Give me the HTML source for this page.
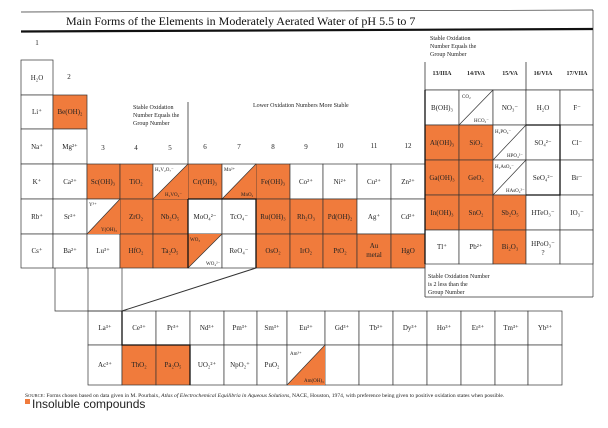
<!DOCTYPE html>
<html><head><meta charset="utf-8"><style>
html,body{margin:0;padding:0;background:#fff;width:608px;height:428px;overflow:hidden}
svg{display:block}
text{font-family:"Liberation Serif","DejaVu Serif",serif;font-size:7px;fill:#222}
.t{text-anchor:middle}
.s{font-size:6px}
.d{font-size:5px}
</style></head><body>
<svg width="608" height="428" viewBox="0 0 608 428" xmlns="http://www.w3.org/2000/svg">
<g stroke="#333" stroke-width="0.7" fill="none">
<line x1="21" y1="12" x2="593" y2="10"/>
<line x1="21" y1="31.5" x2="593" y2="29" stroke-width="2.2" stroke="#111"/>
<line x1="593" y1="10" x2="593" y2="297"/>
</g>
<text x="66" y="25" style="font-size:12px;fill:#111">Main Forms of the Elements in Moderately Aerated Water of pH 5.5 to 7</text>

<text class="t" x="37" y="45">1</text>
<text class="t" x="69" y="79">2</text>
<text class="t" x="103" y="150">3</text><text class="t" x="136" y="150">4</text><text class="t" x="170" y="150">5</text>
<text class="t" x="205" y="149">6</text><text class="t" x="239" y="149">7</text><text class="t" x="273" y="149">8</text>
<text class="t" x="306" y="149">9</text><text class="t" x="340" y="148">10</text><text class="t" x="374" y="148">11</text><text class="t" x="408" y="148">12</text>
<text x="133" y="109" class="s">Stable Oxidation</text>
<text x="133" y="117" class="s">Number Equals the</text>
<text x="133" y="125" class="s">Group Number</text>
<line x1="188" y1="102" x2="188" y2="164" stroke="#333" stroke-width="0.8"/>
<text x="253" y="107" class="s">Lower Oxidation Numbers More Stable</text>
<text x="430" y="40" class="s">Stable Oxidation</text>
<text x="430" y="48" class="s">Number Equals the</text>
<text x="430" y="56" class="s">Group Number</text>
<text class="t s" x="442" y="75" font-weight="bold">13/IIIA</text>
<text class="t s" x="476" y="75" font-weight="bold">14/IVA</text>
<text class="t s" x="510" y="75" font-weight="bold">15/VA</text>
<text class="t s" x="543" y="75" font-weight="bold">16/VIA</text>
<text class="t s" x="577" y="75" font-weight="bold">17/VIIA</text>
<g stroke="#333" stroke-width="0.8" fill="none">
<line x1="425" y1="62" x2="425" y2="297"/>
<line x1="526" y1="62" x2="526" y2="90"/>
<line x1="425" y1="90" x2="593" y2="90"/>
<line x1="425" y1="297" x2="593" y2="297"/>
</g>
<text x="428" y="278" class="s">Stable Oxidation Number</text>
<text x="428" y="286" class="s">is 2 less than the</text>
<text x="428" y="294" class="s">Group Number</text>

<g stroke="#333" stroke-width="0.7">
<rect x="21" y="60" width="32" height="35" fill="#fff"/>
<rect x="21" y="95" width="32" height="34" fill="#fff"/>
<rect x="53" y="95" width="34" height="34" fill="#f07b3c"/>
<rect x="21" y="129" width="32" height="35" fill="#fff"/>
<rect x="53" y="129" width="34" height="35" fill="#fff"/>
<rect x="21" y="164" width="32" height="35" fill="#fff"/>
<rect x="53" y="164" width="34" height="35" fill="#fff"/>
<rect x="21" y="199" width="32" height="35" fill="#fff"/>
<rect x="53" y="199" width="34" height="35" fill="#fff"/>
<rect x="21" y="234" width="32" height="34" fill="#fff"/>
<rect x="53" y="234" width="34" height="34" fill="#fff"/>
<rect x="87" y="164" width="33" height="35" fill="#f07b3c"/>
<rect x="120" y="164" width="33" height="35" fill="#f07b3c"/>
<rect x="153" y="164" width="35" height="35" fill="#fff"/>
<rect x="188" y="164" width="34" height="35" fill="#f07b3c"/>
<rect x="222" y="164" width="34" height="35" fill="#fff"/>
<rect x="256" y="164" width="34" height="35" fill="#f07b3c"/>
<rect x="290" y="164" width="33" height="35" fill="#fff"/>
<rect x="323" y="164" width="34" height="35" fill="#fff"/>
<rect x="357" y="164" width="34" height="35" fill="#fff"/>
<rect x="391" y="164" width="34" height="35" fill="#fff"/>
<rect x="87" y="199" width="33" height="35" fill="#fff"/>
<rect x="120" y="199" width="33" height="35" fill="#f07b3c"/>
<rect x="153" y="199" width="35" height="35" fill="#f07b3c"/>
<rect x="188" y="199" width="34" height="35" fill="#fff"/>
<rect x="222" y="199" width="34" height="35" fill="#fff"/>
<rect x="256" y="199" width="34" height="35" fill="#f07b3c"/>
<rect x="290" y="199" width="33" height="35" fill="#f07b3c"/>
<rect x="323" y="199" width="34" height="35" fill="#f07b3c"/>
<rect x="357" y="199" width="34" height="35" fill="#fff"/>
<rect x="391" y="199" width="34" height="35" fill="#fff"/>
<rect x="87" y="234" width="33" height="34" fill="#fff"/>
<rect x="120" y="234" width="33" height="34" fill="#f07b3c"/>
<rect x="153" y="234" width="35" height="34" fill="#f07b3c"/>
<rect x="188" y="234" width="34" height="34" fill="#fff"/>
<rect x="222" y="234" width="34" height="34" fill="#fff"/>
<rect x="256" y="234" width="34" height="34" fill="#f07b3c"/>
<rect x="290" y="234" width="33" height="34" fill="#f07b3c"/>
<rect x="323" y="234" width="34" height="34" fill="#f07b3c"/>
<rect x="357" y="234" width="34" height="34" fill="#f07b3c"/>
<rect x="391" y="234" width="34" height="34" fill="#f07b3c"/>
<rect x="425" y="90" width="34" height="35" fill="#fff"/>
<rect x="459" y="90" width="34" height="35" fill="#fff"/>
<rect x="493" y="90" width="33" height="35" fill="#fff"/>
<rect x="526" y="90" width="34" height="35" fill="#fff"/>
<rect x="560" y="90" width="33" height="35" fill="#fff"/>
<rect x="425" y="125" width="34" height="35" fill="#f07b3c"/>
<rect x="459" y="125" width="34" height="35" fill="#f07b3c"/>
<rect x="493" y="125" width="33" height="35" fill="#fff"/>
<rect x="526" y="125" width="34" height="35" fill="#fff"/>
<rect x="560" y="125" width="33" height="35" fill="#fff"/>
<rect x="425" y="160" width="34" height="35" fill="#f07b3c"/>
<rect x="459" y="160" width="34" height="35" fill="#f07b3c"/>
<rect x="493" y="160" width="33" height="35" fill="#fff"/>
<rect x="526" y="160" width="34" height="35" fill="#fff"/>
<rect x="560" y="160" width="33" height="35" fill="#fff"/>
<rect x="425" y="195" width="34" height="35" fill="#f07b3c"/>
<rect x="459" y="195" width="34" height="35" fill="#f07b3c"/>
<rect x="493" y="195" width="33" height="35" fill="#f07b3c"/>
<rect x="526" y="195" width="34" height="35" fill="#fff"/>
<rect x="560" y="195" width="33" height="35" fill="#fff"/>
<rect x="425" y="230" width="34" height="34" fill="#fff"/>
<rect x="459" y="230" width="34" height="34" fill="#fff"/>
<rect x="493" y="230" width="33" height="34" fill="#f07b3c"/>
<rect x="526" y="230" width="34" height="34" fill="#fff"/>
<rect x="560" y="230" width="33" height="34" fill="#fff"/>
<rect x="88" y="311" width="34" height="34" fill="#fff"/>
<rect x="88" y="345" width="34" height="40" fill="#fff"/>
</g>
<g stroke="#333" stroke-width="0.7" fill="#fff">
<rect x="122" y="311" width="34" height="34"/><rect x="156" y="311" width="34" height="34"/>
<rect x="190" y="311" width="34" height="34"/><rect x="224" y="311" width="33" height="34"/>
<rect x="257" y="311" width="30" height="34"/><rect x="287" y="311" width="38" height="34"/>
<rect x="325" y="311" width="34" height="34"/><rect x="359" y="311" width="34" height="34"/>
<rect x="393" y="311" width="34" height="34"/><rect x="427" y="311" width="34" height="34"/>
<rect x="461" y="311" width="34" height="34"/><rect x="495" y="311" width="33" height="34"/>
<rect x="528" y="311" width="34" height="34"/>
<rect x="122" y="345" width="34" height="40" fill="#f07b3c"/><rect x="156" y="345" width="34" height="40" fill="#f07b3c"/>
<rect x="190" y="345" width="34" height="40"/><rect x="224" y="345" width="33" height="40"/>
<rect x="257" y="345" width="30" height="40"/><rect x="287" y="345" width="38" height="40"/>
<rect x="325" y="345" width="34" height="40"/><rect x="359" y="345" width="34" height="40"/>
<rect x="393" y="345" width="34" height="40"/><rect x="427" y="345" width="34" height="40"/>
<rect x="461" y="345" width="34" height="40"/><rect x="495" y="345" width="33" height="40"/>
<rect x="528" y="345" width="34" height="40"/>
</g>
<g fill="#f07b3c" stroke="none">
<polygon points="153,199 188,164 188,199"/>
<polygon points="222,199 256,164 256,199"/>
<polygon points="87,234 120,199 120,234"/>
<polygon points="188,234 222,234 188,268"/>
<polygon points="287,385 325,345 325,385"/>
</g>
<g stroke="#333" stroke-width="0.7">
<line x1="153" y1="199" x2="188" y2="164"/>
<line x1="222" y1="199" x2="256" y2="164"/>
<line x1="87" y1="234" x2="120" y2="199"/>
<line x1="188" y1="268" x2="222" y2="234"/>
<line x1="287" y1="385" x2="325" y2="345"/>
<line x1="459" y1="125" x2="493" y2="90"/>
<line x1="493" y1="160" x2="526" y2="125"/>
<line x1="493" y1="195" x2="526" y2="160"/>
<polyline points="55,268 55,311 122,311" fill="none"/>
<line x1="88" y1="268" x2="88" y2="311"/>
<line x1="122" y1="268" x2="122" y2="311"/>
<line x1="122" y1="311" x2="256" y2="268" stroke-width="1"/>
</g>
<g stroke="#111" stroke-width="1.3" fill="none">
<polyline points="188,199 256,199 256,268"/>
<line x1="188" y1="199" x2="188" y2="268"/>
<line x1="425" y1="90" x2="425" y2="264"/>
<polyline points="526,125 560,125 560,195 526,195"/>
<polyline points="122,311 122,345 190,345 190,385"/>
</g>

<text class="t" x="37" y="80">H₂O</text>
<text class="t" x="37" y="114">Li⁺</text>
<text class="t" x="70" y="114" font-size="6.5">Be(OH)₂</text>
<text class="t" x="37" y="149">Na⁺</text>
<text class="t" x="70" y="149">Mg²⁺</text>
<text class="t" x="37" y="184">K⁺</text>
<text class="t" x="70" y="184">Ca²⁺</text>
<text class="t" x="37" y="219">Rb⁺</text>
<text class="t" x="70" y="219">Sr²⁺</text>
<text class="t" x="37" y="253">Cs⁺</text>
<text class="t" x="70" y="253">Ba²⁺</text>
<text class="t" x="103" y="184">Sc(OH)₃</text>
<text class="t" x="136" y="184">TiO₂</text>
<text x="155" y="171" class="d">H₃V₂O₇⁻</text>
<text x="165" y="196" class="d">H₂VO₄⁻</text>
<text class="t" x="205" y="184">Cr(OH)₃</text>
<text x="224" y="171" class="d">Mn²⁺</text>
<text x="241" y="196" class="d">MnO₂</text>
<text class="t" x="273" y="184">Fe(OH)₃</text>
<text class="t" x="306" y="184">Co²⁺</text>
<text class="t" x="340" y="184">Ni²⁺</text>
<text class="t" x="374" y="184">Cu²⁺</text>
<text class="t" x="408" y="184">Zn²⁺</text>
<text x="89" y="206" class="d">Y³⁺</text>
<text x="101" y="231" class="d">Y(OH)₃</text>
<text class="t" x="136" y="219">ZrO₂</text>
<text class="t" x="170" y="219">Nb₂O₅</text>
<text class="t" x="205" y="219">MoO₄²⁻</text>
<text class="t" x="239" y="219">TcO₄⁻</text>
<text class="t" x="273" y="219">Ru(OH)₃</text>
<text class="t" x="306" y="219">Rh₂O₃</text>
<text class="t" x="340" y="219">Pd(OH)₂</text>
<text class="t" x="374" y="219">Ag⁺</text>
<text class="t" x="408" y="219">Cd²⁺</text>
<text class="t" x="103" y="253">Lu³⁺</text>
<text class="t" x="136" y="253">HfO₂</text>
<text class="t" x="170" y="253">Ta₂O₅</text>
<text x="190" y="241" class="d">WO₃</text>
<text x="206" y="265" class="d">WO₄²⁻</text>
<text class="t" x="239" y="253">ReO₄⁻</text>
<text class="t" x="273" y="253">OsO₂</text>
<text class="t" x="306" y="253">IrO₂</text>
<text class="t" x="340" y="253">PtO₂</text>
<text class="t" x="374" y="248">Au</text>
<text class="t" x="374" y="257">metal</text>
<text class="t" x="408" y="253">HgO</text>
<text class="t" x="442" y="110">B(OH)₃</text>
<text x="462" y="98" class="d">CO₂</text>
<text x="474" y="122" class="d">HCO₃⁻</text>
<text class="t" x="510" y="110">NO₃⁻</text>
<text class="t" x="543" y="110">H₂O</text>
<text class="t" x="577" y="110">F⁻</text>
<text class="t" x="442" y="145">Al(OH)₃</text>
<text class="t" x="476" y="145">SiO₂</text>
<text x="495" y="133" class="d">H₂PO₄⁻</text>
<text x="507" y="157" class="d">HPO₄²⁻</text>
<text class="t" x="543" y="145">SO₄²⁻</text>
<text class="t" x="577" y="145">Cl⁻</text>
<text class="t" x="442" y="180">Ga(OH)₃</text>
<text class="t" x="476" y="180">GeO₂</text>
<text x="495" y="168" class="d">H₂AsO₄⁻</text>
<text x="506" y="192" class="d">HAsO₄²⁻</text>
<text class="t" x="543" y="180">SeO₄²⁻</text>
<text class="t" x="577" y="180">Br⁻</text>
<text class="t" x="442" y="215">In(OH)₃</text>
<text class="t" x="476" y="215">SnO₂</text>
<text class="t" x="510" y="215">Sb₂O₅</text>
<text class="t" x="543" y="215">HTeO₃⁻</text>
<text class="t" x="577" y="215">IO₃⁻</text>
<text class="t" x="442" y="249">Tl⁺</text>
<text class="t" x="476" y="249">Pb²⁺</text>
<text class="t" x="510" y="249">Bi₂O₃</text>
<text class="t" x="543" y="246">HPoO₃⁻</text>
<text class="t" x="543" y="255">?</text>
<text class="t" x="105" y="330">La³⁺</text>
<text class="t" x="139" y="330">Ce³⁺</text>
<text class="t" x="173" y="330">Pr³⁺</text>
<text class="t" x="207" y="330">Nd³⁺</text>
<text class="t" x="240" y="330">Pm³⁺</text>
<text class="t" x="272" y="330">Sm³⁺</text>
<text class="t" x="306" y="330">Eu³⁺</text>
<text class="t" x="342" y="330">Gd³⁺</text>
<text class="t" x="376" y="330">Tb³⁺</text>
<text class="t" x="410" y="330">Dy³⁺</text>
<text class="t" x="444" y="330">Ho³⁺</text>
<text class="t" x="478" y="330">Er³⁺</text>
<text class="t" x="511" y="330">Tm³⁺</text>
<text class="t" x="545" y="330">Yb³⁺</text>
<text class="t" x="105" y="367">Ac³⁺</text>
<text class="t" x="139" y="367">ThO₂</text>
<text class="t" x="173" y="367">Pa₂O₅</text>
<text class="t" x="207" y="367">UO₂²⁺</text>
<text class="t" x="240" y="367">NpO₂⁺</text>
<text class="t" x="272" y="367">PuO₂</text>
<text x="290" y="355" class="d">Am³⁺</text>
<text x="304" y="382" class="d">Am(OH)₃</text>
<text x="25" y="397" style="font-size:5.6px">S<tspan font-size="4.5">OURCE</tspan>: Forms chosen based on data given in M. Pourbaix, <tspan font-style="italic">Atlas of Electrochemical Equilibria in Aqueous Solutions</tspan>, NACE, Houston, 1974, with preference being given to positive oxidation states when possible.</text>
<rect x="25" y="399" width="5" height="5" fill="#f07b3c"/>
<text x="32" y="408" style="font-family:'Liberation Sans',sans-serif;font-size:12px;fill:#222">Insoluble compounds</text>
</svg>
</body></html>
